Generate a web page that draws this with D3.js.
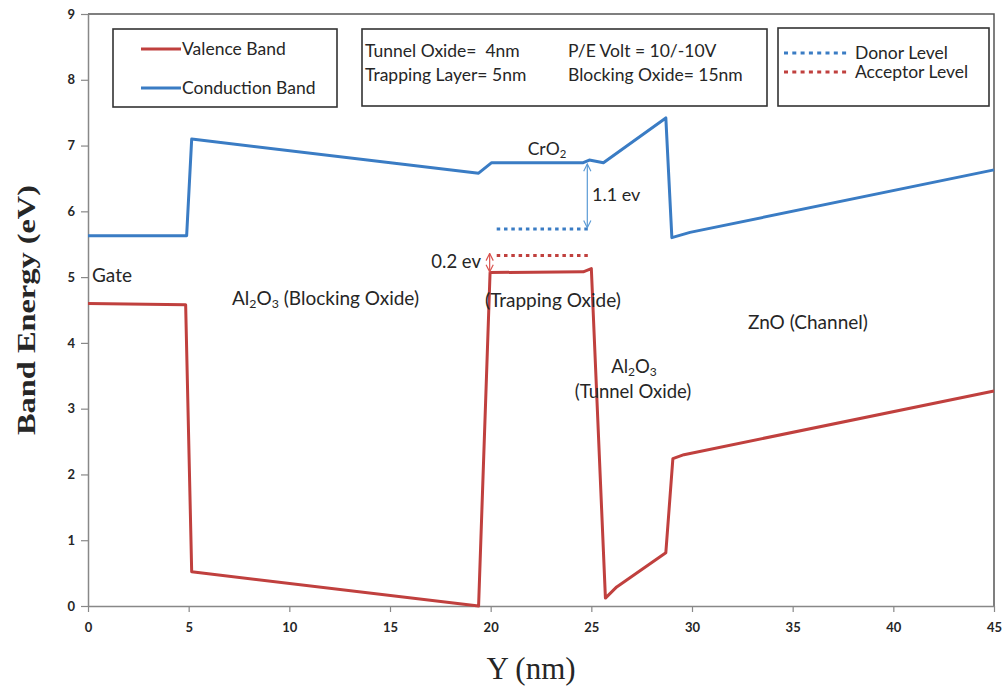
<!DOCTYPE html>
<html>
<head>
<meta charset="utf-8">
<script src="https://cdn.jsdelivr.net/npm/d3@7"></script>
<style>
  body { margin: 0; background: #fff; }
  text { font-family: Lato, "Open Sans", sans-serif; fill: #262626; white-space: pre; }
</style>
</head>
<body>
<script>
// Datos
const conductionX = [0, 4.9, 5.15, 19.4, 20.05, 24.6, 24.9, 25.6, 28.7, 29.0, 29.9, 45];
const conductionE = [5.63, 5.63, 7.1, 6.58, 6.74, 6.74, 6.78, 6.74, 7.42, 5.6, 5.68, 6.63];
const valenceX = [0, 4.85, 5.15, 19.4, 19.97, 24.6, 25.0, 25.7, 26.26, 28.7, 29.05, 29.6, 45];
const valenceE = [4.6, 4.58, 0.52, 0.0, 5.07, 5.08, 5.13, 0.12, 0.29, 0.81, 2.24, 2.3, 3.27];
const donorLevel = { x: [20.3, 25.0], e: 5.73 };
const acceptorLevel = { x: [20.3, 25.0], e: 5.33 };
const xTicks = [0, 5, 10, 15, 20, 25, 30, 35, 40, 45];
const yTicks = [0, 1, 2, 3, 4, 5, 6, 7, 8, 9];

const red = "#c0403e";
const blue = "#3a7cc4";

const W = 1008, H = 689;
const margin = { top: 14, right: 14, bottom: 83, left: 88 };
const width = W - margin.left - margin.right;
const height = H - margin.top - margin.bottom;

const svg = d3.select("body").append("svg").attr("width", W).attr("height", H);

const x = d3.scaleLinear().domain([0, 45]).range([margin.left, margin.left + width]);
const y = d3.scaleLinear().domain([0, 9]).range([margin.top + height, margin.top]);

// marco (arriba y derecha)
svg.append("path")
  .attr("d", `M${x(0)},${y(9)}H${x(45)}V${y(0)}`)
  .attr("fill", "none").attr("stroke", "#555").attr("stroke-width", 1.5);

// ejes
const yAxis = svg.append("g")
  .attr("transform", `translate(${x(0)},0)`)
  .call(d3.axisLeft(y).tickValues(yTicks).tickSize(7).tickSizeOuter(0));
const xAxis = svg.append("g")
  .attr("transform", `translate(0,${y(0)})`)
  .call(d3.axisBottom(x).tickValues(xTicks).tickSize(6).tickSizeOuter(0));
[xAxis, yAxis].forEach((g) => {
  g.select(".domain").attr("stroke", "#888").attr("stroke-width", 1.5);
  g.selectAll(".tick line").attr("stroke", "#888").attr("stroke-width", 1.2);
  g.selectAll(".tick text")
    .style("font-family", "Lato, sans-serif")
    .style("font-size", "13px")
    .style("font-weight", "bold")
    .attr("fill", "#333");
});
yAxis.selectAll(".tick text").attr("x", -13);
xAxis.selectAll(".tick text").attr("y", 17);

// títulos de ejes
svg.append("text")
  .attr("transform", `translate(35,${y(4.5)}) rotate(-90)`)
  .attr("text-anchor", "middle")
  .attr("textLength", 250).attr("lengthAdjust", "spacingAndGlyphs")
  .style("font-family", "'Liberation Serif', serif")
  .style("font-size", "26px").style("font-weight", "bold")
  .attr("fill", "#111")
  .text("Band Energy (eV)");
svg.append("text")
  .attr("x", x(22.5) - 10).attr("y", 679)
  .attr("text-anchor", "middle")
  .style("font-family", "'Liberation Serif', serif")
  .style("font-size", "31px")
  .attr("fill", "#111")
  .text("Y (nm)");

// líneas de bandas
const line = d3.line().x((d) => x(d[0])).y((d) => y(d[1]));
const conduction = d3.zip(conductionX, conductionE);
const valence = d3.zip(valenceX, valenceE);

svg.append("path").datum(conduction).attr("d", line)
  .attr("fill", "none").attr("stroke", blue).attr("stroke-width", 3).attr("stroke-linejoin", "round");
svg.append("path").datum(valence).attr("d", line)
  .attr("fill", "none").attr("stroke", red).attr("stroke-width", 3).attr("stroke-linejoin", "round");

// niveles donador / aceptor
[[donorLevel, blue], [acceptorLevel, red]].forEach(([lv, c]) => {
  svg.append("line")
    .attr("x1", x(lv.x[0])).attr("x2", x(lv.x[1]))
    .attr("y1", y(lv.e)).attr("y2", y(lv.e))
    .attr("stroke", c).attr("stroke-width", 3).attr("stroke-dasharray", "3.5,3.8");
});

// flechas
const defs = svg.append("defs");
const marker = (id, c) => {
  defs.append("marker").attr("id", id)
    .attr("viewBox", "0 0 10 10").attr("refX", 9).attr("refY", 5)
    .attr("markerWidth", 9).attr("markerHeight", 9).attr("orient", "auto-start-reverse")
    .attr("markerUnits", "userSpaceOnUse")
    .append("path").attr("d", "M1,1L9,5L1,9")
    .attr("fill", "none").attr("stroke", c).attr("stroke-width", 1.3);
};
marker("arrB", "#5b9bd5");
marker("arrR", "#d9534f");

svg.append("line")
  .attr("x1", x(24.8)).attr("x2", x(24.8))
  .attr("y1", y(6.72)).attr("y2", y(5.75))
  .attr("stroke", "#5b9bd5").attr("stroke-width", 1.2)
  .attr("marker-start", "url(#arrB)").attr("marker-end", "url(#arrB)");
svg.append("line")
  .attr("x1", x(19.95)).attr("x2", x(19.95))
  .attr("y1", y(5.36)).attr("y2", y(5.08))
  .attr("stroke", "#d9534f").attr("stroke-width", 1.2)
  .attr("marker-start", "url(#arrR)").attr("marker-end", "url(#arrR)");

// anotaciones
const label = (tx, ty, parts, anchor = "start", size = 19) => {
  const t = svg.append("text").attr("x", tx).attr("y", ty)
    .attr("text-anchor", anchor).style("font-size", size + "px");
  parts.forEach((p) => {
    if (typeof p === "string") t.append("tspan").text(p);
    else t.append("tspan").attr("baseline-shift", "-25%").style("font-size", size * 0.65 + "px").text(p.sub);
  });
  return t;
};
label(92, 282, ["Gate"]);
label(232, 305, ["Al", { sub: "2" }, "O", { sub: "3" }, " (Blocking Oxide)"]);
label(553, 307, ["(Trapping Oxide)"], "middle");
label(547, 155, ["CrO", { sub: "2" }], "middle", 17.5);
label(592, 201, ["1.1 ev"], "start", 18);
label(481, 268, ["0.2 ev"], "end", 18.5);
label(634, 373, ["Al", { sub: "2" }, "O", { sub: "3" }], "middle", 18.5);
label(633, 398, ["(Tunnel Oxide)"], "middle", 18.5);
label(748, 329, ["ZnO (Channel)"], "start", 19);

// leyendas
const box = (bx, by, bw, bh) =>
  svg.append("rect").attr("x", bx).attr("y", by).attr("width", bw).attr("height", bh)
    .attr("fill", "#fff").attr("stroke", "#333").attr("stroke-width", 1.6);

const legendSize = 17.5;
box(113, 29, 224, 78);
[[red, "Valence Band", 49], [blue, "Conduction Band", 88]].forEach(([c, name, ly]) => {
  svg.append("line").attr("x1", 141).attr("x2", 181).attr("y1", ly).attr("y2", ly)
    .attr("stroke", c).attr("stroke-width", 3);
  label(182, ly + 6, [name], "start", legendSize);
});

box(362, 29, 405, 77);
label(365, 57, ["Tunnel Oxide=  4nm"], "start", legendSize);
label(365, 81, ["Trapping Layer= 5nm"], "start", legendSize);
label(568, 57, ["P/E Volt = 10/-10V"], "start", legendSize);
label(568, 81, ["Blocking Oxide= 15nm"], "start", legendSize);

box(778, 28, 211, 78);
[[blue, "Donor Level", 53], [red, "Acceptor Level", 72]].forEach(([c, name, ly]) => {
  svg.append("line").attr("x1", 784).attr("x2", 850).attr("y1", ly).attr("y2", ly)
    .attr("stroke", c).attr("stroke-width", 3).attr("stroke-dasharray", "4,4.3");
  label(855, ly + 6, [name], "start", legendSize);
});
</script>
</body>
</html>
